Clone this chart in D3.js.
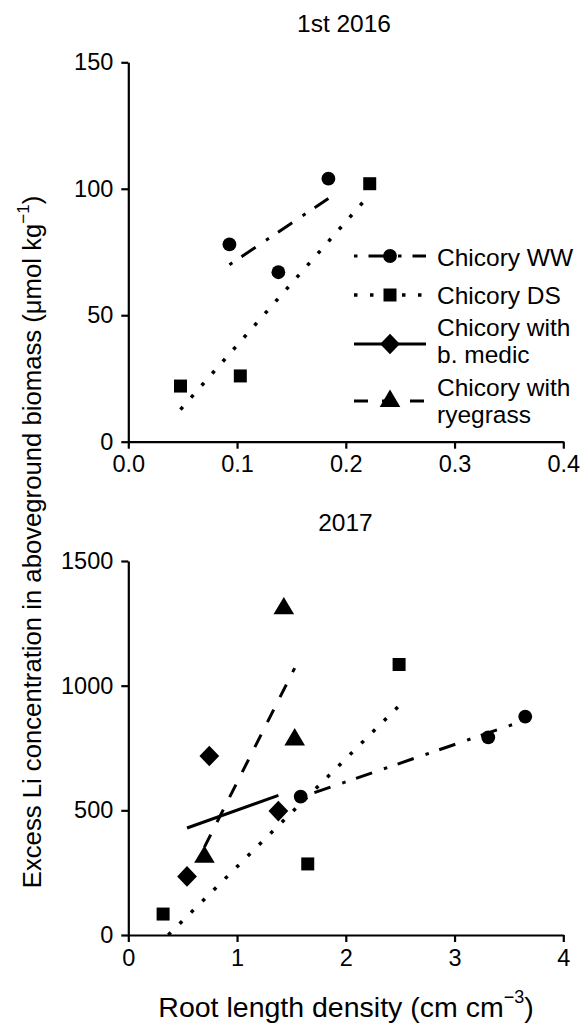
<!DOCTYPE html>
<html>
<head>
<meta charset="utf-8">
<script src="https://cdn.jsdelivr.net/npm/d3@7"></script>
<style>
  html, body { margin: 0; padding: 0; background: #fff; }
  svg { display: block; font-family: "Liberation Sans", Arial, sans-serif; }
</style>
</head>
<body>
<svg id="chart" width="582" height="1029"></svg>
<script>
// Excess Li vs root length density, two seasons
const groups = ["Chicory WW", "Chicory DS", "Chicory with b. medic", "Chicory with ryegrass"];

// 1st 2016
const ww2016X = [0.093, 0.138, 0.184];
const ww2016Y = [78, 67, 104];
const ds2016X = [0.048, 0.103, 0.222];
const ds2016Y = [22, 26, 102];

// 2017
const ww2017X = [1.585, 3.31, 3.65];
const ww2017Y = [555, 793, 876];
const ds2017X = [0.32, 1.65, 2.49];
const ds2017Y = [84, 285, 1085];
const medic2017X = [0.54, 0.745, 1.38];
const medic2017Y = [235, 718, 497];
const rye2017X = [0.70, 1.43, 1.53];
const rye2017Y = [313, 1310, 784];

// axis ticks
const xTicks2016 = [0, 0.1, 0.2, 0.3, 0.4];
const yTicks2016 = [0, 50, 100, 150];
const xTicks2017 = [0, 1, 2, 3, 4];
const yTicks2017 = [0, 500, 1000, 1500];

const svg = d3.select("#chart");

// line style and marker per treatment
const styles = {
  "Chicory WW": { dash: "3.5,11,17,12.5", width: 3, marker: "circle" },
  "Chicory DS": { dash: "3.5,12.5", width: 3.5, marker: "square" },
  "Chicory with b. medic": { dash: null, width: 3, marker: "diamond" },
  "Chicory with ryegrass": { dash: "14,14", width: 3, marker: "triangle" }
};

function markerPath(kind) {
  switch (kind) {
    case "circle": { const r = 6.9; return `M${r},0A${r},${r} 0 1,1 ${-r},0A${r},${r} 0 1,1 ${r},0Z`; }
    case "square": { const h = 6.5; return `M${-h},${-h}H${h}V${h}H${-h}Z`; }
    case "diamond": return "M0,-10.3L9.9,0L0,10.3L-9.9,0Z";
    case "triangle": return "M0,-11.4L10.3,5.9L-10.3,5.9Z";
  }
}

// least-squares fit for the trend line of one treatment
function fit(xs, ys) {
  const mx = d3.mean(xs), my = d3.mean(ys);
  let sxy = 0, sxx = 0;
  xs.forEach((x, i) => { sxy += (x - mx) * (ys[i] - my); sxx += (x - mx) * (x - mx); });
  const b = sxy / sxx, a = my - b * mx;
  return { a, b };
}

function drawPanel(cfg) {
  const { x, y, xTicks, yTicks, xFmt, title, titleX, titleY, series } = cfg;
  const g = svg.append("g");

  const xAxis = d3.axisBottom(x).tickValues(xTicks).tickFormat(xFmt)
    .tickSize(7).tickSizeOuter(0).tickPadding(7);
  const yAxis = d3.axisLeft(y).tickValues(yTicks).tickFormat(d3.format("d"))
    .tickSize(7).tickSizeOuter(0).tickPadding(8);

  const gx = g.append("g").attr("transform", `translate(0,${y.range()[0]})`).call(xAxis);
  const gy = g.append("g").attr("transform", `translate(${x.range()[0]},0)`).call(yAxis);
  [gx, gy].forEach(a => {
    a.selectAll("path, line").attr("stroke", "#000").attr("stroke-width", 2.2);
    a.selectAll("text").attr("fill", "#000").style("font-size", "23.5px")
      .style("font-family", "'Liberation Sans', Arial, sans-serif");
  });

  g.append("text").attr("x", titleX).attr("y", titleY).attr("text-anchor", "middle")
    .style("font-size", "24.5px").attr("fill", "#000").text(title);

  // trend lines
  series.forEach(s => {
    const { a, b } = fit(s.xs, s.ys);
    let x0 = d3.min(s.xs), x1 = d3.max(s.xs);
    if (a + b * x0 < 0) x0 = -a / b;
    const st = styles[s.name];
    g.append("line")
      .attr("x1", x(x0)).attr("y1", y(a + b * x0))
      .attr("x2", x(x1)).attr("y2", y(a + b * x1))
      .attr("stroke", "#000").attr("stroke-width", st.width)
      .attr("stroke-dasharray", st.dash);
  });

  // markers
  series.forEach(s => {
    const st = styles[s.name];
    g.selectAll(null).data(s.xs.map((v, i) => [v, s.ys[i]])).enter()
      .append("path")
      .attr("d", markerPath(st.marker))
      .attr("transform", d => `translate(${x(d[0])},${y(d[1])})`)
      .attr("fill", "#000");
  });
}

const x2016 = d3.scaleLinear().domain([0, 0.4]).range([128.3, 563.3]);
const y2016 = d3.scaleLinear().domain([0, 150]).range([441.7, 62.3]);
const x2017 = d3.scaleLinear().domain([0, 4]).range([128.3, 563.3]);
const y2017 = d3.scaleLinear().domain([0, 1500]).range([935, 561]);

drawPanel({
  x: x2016, y: y2016, xTicks: xTicks2016, yTicks: yTicks2016, xFmt: d3.format(".1f"),
  title: "1st 2016", titleX: 344, titleY: 31.7,
  series: [
    { name: "Chicory WW", xs: ww2016X, ys: ww2016Y },
    { name: "Chicory DS", xs: ds2016X, ys: ds2016Y }
  ]
});

drawPanel({
  x: x2017, y: y2017, xTicks: xTicks2017, yTicks: yTicks2017, xFmt: d3.format("d"),
  title: "2017", titleX: 345.5, titleY: 531,
  series: [
    { name: "Chicory WW", xs: ww2017X, ys: ww2017Y },
    { name: "Chicory DS", xs: ds2017X, ys: ds2017Y },
    { name: "Chicory with b. medic", xs: medic2017X, ys: medic2017Y },
    { name: "Chicory with ryegrass", xs: rye2017X, ys: rye2017Y }
  ]
});

// legend
const legendRows = [
  { name: groups[0], lineY: 256, lines: ["Chicory WW"], baseY: 266 },
  { name: groups[1], lineY: 295, lines: ["Chicory DS"], baseY: 304 },
  { name: groups[2], lineY: 344, lines: ["Chicory with", "b. medic"], baseY: 336 },
  { name: groups[3], lineY: 401, lines: ["Chicory with", "ryegrass"], baseY: 396 }
];
const lg = svg.append("g");
legendRows.forEach(r => {
  const st = styles[r.name];
  lg.append("line").attr("x1", 354).attr("x2", 426).attr("y1", r.lineY).attr("y2", r.lineY)
    .attr("stroke", "#000").attr("stroke-width", st.width)
    .attr("stroke-dasharray", st.dash);
  lg.append("path").attr("d", markerPath(st.marker))
    .attr("transform", `translate(390,${r.lineY})`).attr("fill", "#000");
  const t = lg.append("text").attr("x", 437).attr("y", r.baseY)
    .style("font-size", "24.5px").attr("fill", "#000");
  r.lines.forEach((s, i) => t.append("tspan").attr("x", 437).attr("dy", i ? 27 : 0).text(s));
});

// axis titles
const xl = svg.append("text").attr("x", 346).attr("y", 1016.7).attr("text-anchor", "middle")
  .style("font-size", "28.5px").attr("fill", "#000");
xl.append("tspan").text("Root length density (cm cm");
xl.append("tspan").attr("dy", -14).style("font-size", "18px").text("\u22123");
xl.append("tspan").attr("dy", 14).text(")");

const yl = svg.append("text").attr("transform", "translate(41,542) rotate(-90)")
  .attr("text-anchor", "middle").style("font-size", "25.7px").attr("fill", "#000");
yl.append("tspan").text("Excess Li concentration in aboveground biomass (\u03bcmol kg");
yl.append("tspan").attr("dy", -12).style("font-size", "17px").text("\u22121");
yl.append("tspan").attr("dy", 12).text(")");
</script>
</body>
</html>
